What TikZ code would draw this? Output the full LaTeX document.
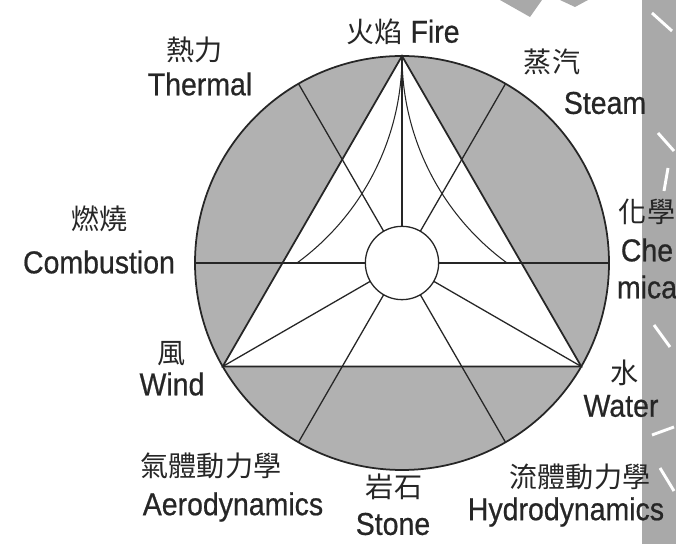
\documentclass[tikz,border=0pt]{standalone}
\usepackage{fontspec}
\usepackage{tikz}
\usepackage{xcolor}
\setmainfont{Liberation Sans}[FakeStretch=0.9,FakeBold=0.6]
\newfontfamily\cjk{Noto Sans CJK TC}
\definecolor{Ink}{HTML}{262626}
\definecolor{Shade}{HTML}{B1B1B1}
\definecolor{Band}{HTML}{A9A9A9}

\begin{document}
\begin{tikzpicture}[
  x=0.03cm, y=0.03cm,
  rim/.style={draw=Ink,line width=1.5pt},
  spoke/.style={draw=Ink,line width=1.1pt},
  curl/.style={draw=Ink,line width=0.9pt},
  hub/.style={circle,draw=Ink,fill=white,line width=1.1pt,minimum size=2.2cm,inner sep=0pt},
  lat/.style={inner sep=0pt,text=Ink,font=\fontsize{27}{29}\selectfont},
  han/.style={inner sep=0pt,text=Ink,font=\cjk\fontsize{24}{26}\selectfont},
  streak/.style={draw=white,line width=2.5pt}
]
\useasboundingbox (-402,-281) rectangle (274,263);

% page edge behind the wheel
\fill[Band] (240,-281) rectangle (274,263);
\fill[Band] (98,263) -- (140,263) -- (128,246) -- cycle;
\fill[Band] (158,263) -- (186,263) -- (173,256) -- cycle;
\draw[streak] (250,250) -- (270,232);
\draw[streak] (256,130) -- (272,112);
\draw[streak] (266,95) -- (262,72);
\draw[streak] (252,-62) -- (268,-84);
\draw[streak] (250,-172) -- (272,-164);
\draw[streak] (258,-205) -- (272,-228);

% wheel
\coordinate (O) at (0,0);
\coordinate (A) at (90:207);
\coordinate (B) at (210:207);
\coordinate (C) at (330:207);
\fill[Shade] (O) circle (207);
\fill[white] (A) -- (B) -- (C) -- cycle;
\foreach \a in {0,60,120}
  \draw[spoke] (\a:207) -- (\a+180:207);
\foreach \v in {A,B,C}
  \draw[spoke] (O) -- (\v);
\draw[curl] (A) arc[start angle=0,end angle=-53.8,radius=256.5];
\draw[curl] (A) arc[start angle=180,end angle=233.8,radius=256.5];
\draw[rim] (A) -- (B) -- (C) -- cycle;
\draw[rim] (O) circle (207);
\node[hub] (core) at (O) {};

% labels
\node[lat] (fire) at (1,231) {{\cjk\fontsize{24}{26}\selectfont 火焰} Fire};
\node[han] (thermalH) at (-207,213) {熱力};
\node[lat] (thermal) at (-202,179) {Thermal};
\node[han] (steamH) at (150,201) {蒸汽};
\node[lat] (steam) at (203,160) {Steam};
\node[han] (combH) at (-302,44) {燃燒};
\node[lat] (comb) at (-303,1) {Combustion};
\node[han] (chemH) at (245,51) {化學};
\node[lat] (chem) at (245,13) {Che};
\node[lat] (chemB) at (245,-24) {mica};
\node[han] (windH) at (-230,-91) {風};
\node[lat] (wind) at (-230,-121) {Wind};
\node[han] (waterH) at (223,-110) {水};
\node[lat] (water) at (219,-143) {Water};
\node[han] (aeroH) at (-191,-203) {氣體動力學};
\node[lat] (aero) at (-169,-244) {Aerodynamics};
\node[han] (stoneH) at (-8,-224) {岩石};
\node[lat] (stone) at (-9,-261) {Stone};
\node[han] (hydroH) at (178,-214) {流體動力學};
\node[lat] (hydro) at (164,-249) {Hydrodynamics};
\end{tikzpicture}
\end{document}
